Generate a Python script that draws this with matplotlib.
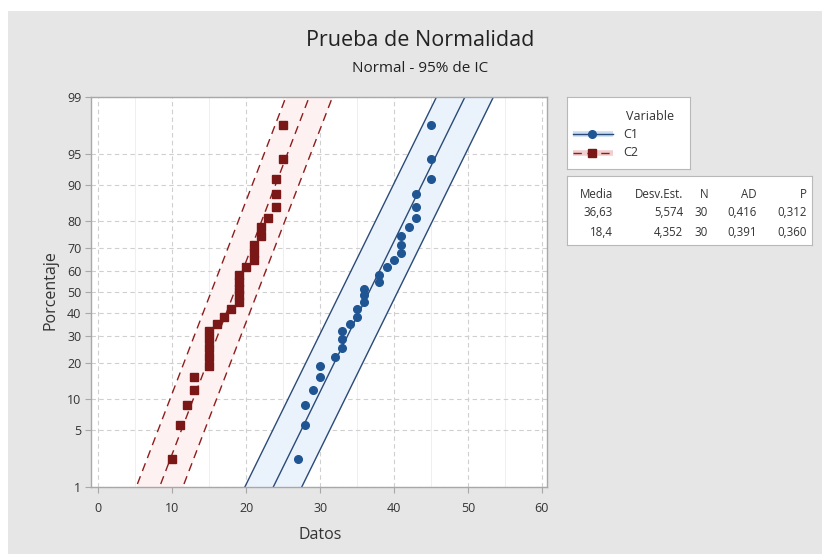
import numpy as np
import matplotlib
matplotlib.use("Agg")
import matplotlib.pyplot as plt
from matplotlib.patches import Rectangle
from matplotlib.ticker import NullLocator, MultipleLocator
from statistics import NormalDist

plt.rcParams['font.family'] = ['Open Sans', 'DejaVu Sans']

# datos
c1 = [27, 28, 28, 29, 30, 30, 32, 33, 33, 33, 34, 35, 35, 36, 36, 36, 38, 38, 39, 40,
      41, 41, 41, 42, 43, 43, 43, 45, 45, 45]
c2 = [10, 11, 12, 13, 13, 15, 15, 15, 15, 15, 16, 17, 18, 19, 19, 19, 19, 19, 20, 21,
      21, 21, 22, 22, 23, 24, 24, 24, 25, 25]
variables = ["C1", "C2"]
media = [36.63, 18.4]
desv = [5.574, 4.352]
semi_ic = [3.85, 3.15]   # semiancho de las bandas de confianza
tabla_cab = ["Media", "Desv.Est.", "N", "AD", "P"]
tabla_c1 = ["36,63", "5,574", "30", "0,416", "0,312"]
tabla_c2 = ["18,4", "4,352", "30", "0,391", "0,360"]
yticks = [1, 5, 10, 20, 30, 40, 50, 60, 70, 80, 90, 95, 99]
xticks = [0, 10, 20, 30, 40, 50, 60]

nd = NormalDist()
_ppf = np.vectorize(nd.inv_cdf, otypes=[float])
_cdf = np.vectorize(nd.cdf, otypes=[float])


def pct_a_z(p):
    p = np.clip(np.asarray(p, float) / 100.0, 1e-9, 1 - 1e-9)
    return _ppf(p)


def z_a_pct(z):
    return _cdf(np.asarray(z, float)) * 100.0


W, H = 822, 554
fig = plt.figure(figsize=(W / 100, H / 100), dpi=100, facecolor="white")
fig.patches.append(Rectangle((8 / W, 0), 1, 1 - 11 / H, transform=fig.transFigure,
                             facecolor="#E6E6E6", edgecolor="none", zorder=-10))

ax = fig.add_axes([91 / W, 1 - 487 / H, (547 - 91) / W, (487 - 97) / H])
ax.set_facecolor("white")
ax.set_yscale("function", functions=(pct_a_z, z_a_pct))

estilos = [
    dict(color="#2B4A78", ls="-", marker="o", mc="#1F5592", ms=5.5, fill="#EAF3FC"),
    dict(color="#8E1D1D", ls=(0, (6, 4)), marker="s", mc="#7A1717", ms=6, fill="#FDF1F1"),
]

zg = np.linspace(-2.6, 2.6, 200)
pg = z_a_pct(zg)
for datos, m, s, hw, st in zip([c1, c2], media, desv, semi_ic, estilos):
    n = len(datos)
    x = np.sort(datos)
    pos = (np.arange(1, n + 1) - 0.3) / (n + 0.4) * 100
    xf = m + zg * s
    ax.fill_betweenx(pg, xf - hw, xf + hw, color=st["fill"], lw=0, zorder=1)
    ax.plot(xf, pg, color=st["color"], ls=st["ls"], lw=1.0, zorder=2)
    ax.plot(xf - hw, pg, color=st["color"], ls=st["ls"], lw=1.0, zorder=2)
    ax.plot(xf + hw, pg, color=st["color"], ls=st["ls"], lw=1.0, zorder=2)
    ax.plot(x, pos, ls="none", marker=st["marker"], ms=st["ms"], mfc=st["mc"],
            mec=st["mc"], zorder=3)

ax.set_xlim(-1, 60.7)
ax.set_ylim(1, 99)
ax.set_yticks(yticks)
ax.set_yticklabels([str(t) for t in yticks])
ax.yaxis.set_minor_locator(NullLocator())
ax.set_xticks(xticks)
ax.xaxis.set_minor_locator(MultipleLocator(5))
ax.grid(True, which="major", color="#CFCFCF", ls=(0, (4, 3)), lw=0.8, zorder=0)
ax.grid(True, which="minor", axis="x", color="#ECECEC", ls="-", lw=0.6, zorder=0)
ax.set_axisbelow(True)
for sp in ax.spines.values():
    sp.set_color("#A8A8A8")
    sp.set_linewidth(1.0)
ax.tick_params(axis="both", which="major", length=4, width=0.8, color="#A8A8A8",
               labelsize=9, labelcolor="#333333", pad=3)
ax.tick_params(axis="x", which="minor", length=0)
ax.tick_params(axis="x", pad=7)

fig.text(320 / W, 1 - 535 / H, "Datos", ha="center", va="center", fontsize=11.5, color="#333333")
fig.text(50 / W, 1 - 290 / H, "Porcentaje", ha="center", va="center", rotation=90,
         fontsize=11.5, color="#333333")
fig.text(420 / W, 1 - 40 / H, "Prueba de Normalidad", ha="center", va="center",
         fontsize=15.5, color="#222222")
fig.text(420 / W, 1 - 68 / H, "Normal - 95% de IC", ha="center", va="center",
         fontsize=11, color="#222222")

# leyenda
lx0, ly0, lx1, ly1 = 567, 97, 690, 169
lg = fig.add_axes([lx0 / W, 1 - ly1 / H, (lx1 - lx0) / W, (ly1 - ly0) / H])
lg.set_xlim(lx0, lx1)
lg.set_ylim(ly1, ly0)
lg.set_xticks([])
lg.set_yticks([])
lg.set_facecolor("white")
for sp in lg.spines.values():
    sp.set_color("#B8B8B8")
lg.text(650, 116, "Variable", ha="center", va="center", fontsize=9, color="#333333")
for k, (nombre, st) in enumerate(zip(variables, estilos)):
    yy = 134 + 19 * k
    lg.plot([573, 613], [yy, yy], color="#C9DDF2" if k == 0 else "#F2CFCF", lw=4,
            solid_capstyle="butt")
    lg.plot([573, 613], [yy, yy], color=st["color"], ls=st["ls"], lw=1.0)
    lg.plot([592], [yy], marker=st["marker"], ms=st["ms"], mfc=st["mc"], mec=st["mc"])
    lg.text(623, yy, nombre, ha="left", va="center", fontsize=9, color="#333333")

# tabla de estadisticos
tx0, ty0, tx1, ty1 = 567, 176, 812, 245
tb = fig.add_axes([tx0 / W, 1 - ty1 / H, (tx1 - tx0) / W, (ty1 - ty0) / H])
tb.set_xlim(tx0, tx1)
tb.set_ylim(ty1, ty0)
tb.set_xticks([])
tb.set_yticks([])
tb.set_facecolor("white")
for sp in tb.spines.values():
    sp.set_color("#B8B8B8")
cols = [613, 683, 708, 757, 807]
for fila, yy in zip([tabla_cab, tabla_c1, tabla_c2], [194, 213, 232]):
    for txt, xx in zip(fila, cols):
        tb.text(xx, yy, txt, ha="right", va="center", fontsize=8.3, color="#333333")

fig.savefig("out.png", dpi=100)
